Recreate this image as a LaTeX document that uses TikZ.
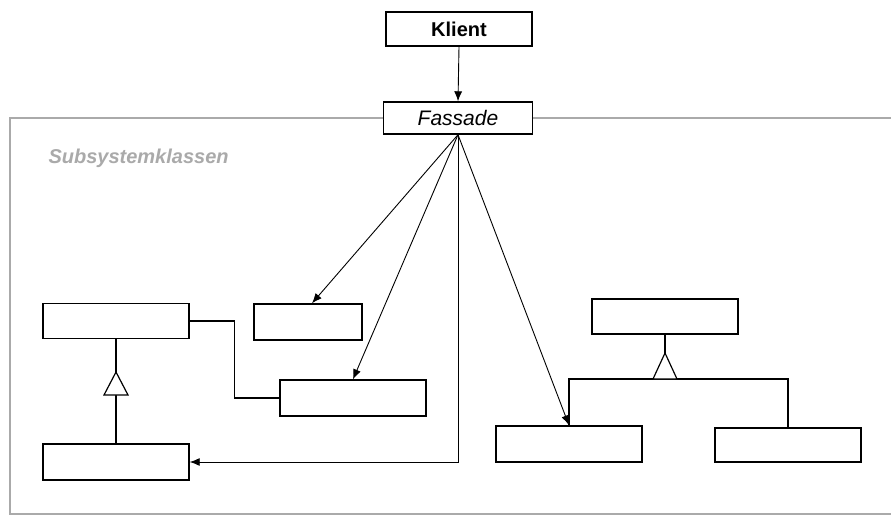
\documentclass[tikz,border=0pt]{standalone}
\usepackage{fontspec}
\setmainfont{Liberation Sans}
\usetikzlibrary{calc}
\usetikzlibrary{arrows.meta}

\definecolor{framegray}{RGB}{170,170,170}

\tikzset{
  klasse/.style={draw, line width=1.4pt, fill=white, minimum width=146pt, minimum height=35pt, inner sep=0pt},
  pfeil/.style={line width=0.9pt, -{Latex[length=10pt,width=8pt]}},
  linie/.style={line width=1.2pt}
}

\begin{document}
\begin{tikzpicture}[x=1pt,y=-1pt]
        \clip (0,0) rectangle (891,516);
        \fill[white] (0,0) rectangle (891,516);

        % Rahmen
        \draw[framegray, line width=2.2pt] (900,118) -- (10,118) -- (10,514) -- (900,514);
        \node[anchor=west, text=framegray, font=\fontsize{20}{24}\selectfont\bfseries\itshape] (sub) at (45,158) {Subsystemklassen};

        \node[klasse, minimum height=34pt, font=\fontsize{20}{24}\selectfont\bfseries] (klient) at (459,29) {Klient};
        \node[klasse, minimum width=149pt, minimum height=32pt, font=\fontsize{21}{24}\selectfont\itshape] (fassade) at (458,118) {Fassade};

        \node[klasse] (a) at (116,321) {};
        \node[klasse, minimum width=108pt, minimum height=36pt] (b) at (308,322) {};
        \node[klasse, minimum height=36pt] (c) at (353,398) {};
        \node[klasse, minimum height=36pt] (d) at (116,462) {};
        \node[klasse] (e) at (665,316.5) {};
        \node[klasse, minimum height=36pt] (f) at (569,444) {};
        \node[klasse, minimum height=34pt] (g) at (788,445) {};

        \draw[pfeil] (klient.south) -- (fassade.north);
        \draw[pfeil] (fassade.south) -- ($(b.north)+(4,0)$);
        \draw[pfeil] (fassade.south) -- (c.north);
        \draw[pfeil] (fassade.south) -- (f.north);
        \draw[pfeil] (fassade.south) |- (d.east);

        \draw[linie] (a.east) -- ++(45,0) |- (c.west);

        \coordinate (t1) at (a.south |- 0,395);
        \draw[linie] (a.south) -- ($(t1)+(0,-23)$);
        \draw[linie] (t1) -- (d.north);
        \draw[linie, fill=white] ($(t1)+(-12,0)$) -- ($(t1)+(12,0)$) -- ($(t1)+(0,-23)$) -- cycle;

        \coordinate (t2) at (e.south |- 0,379);
        \draw[linie] (e.south) -- ($(t2)+(0,-26)$);
        \draw[linie] (f.north) -- (f.north |- t2) -- (g.north |- t2) -- (g.north);
        \draw[linie, fill=white] ($(t2)+(-12,0)$) -- ($(t2)+(12,0)$) -- ($(t2)+(0,-26)$) -- cycle;
    \end{tikzpicture}
\end{document}
